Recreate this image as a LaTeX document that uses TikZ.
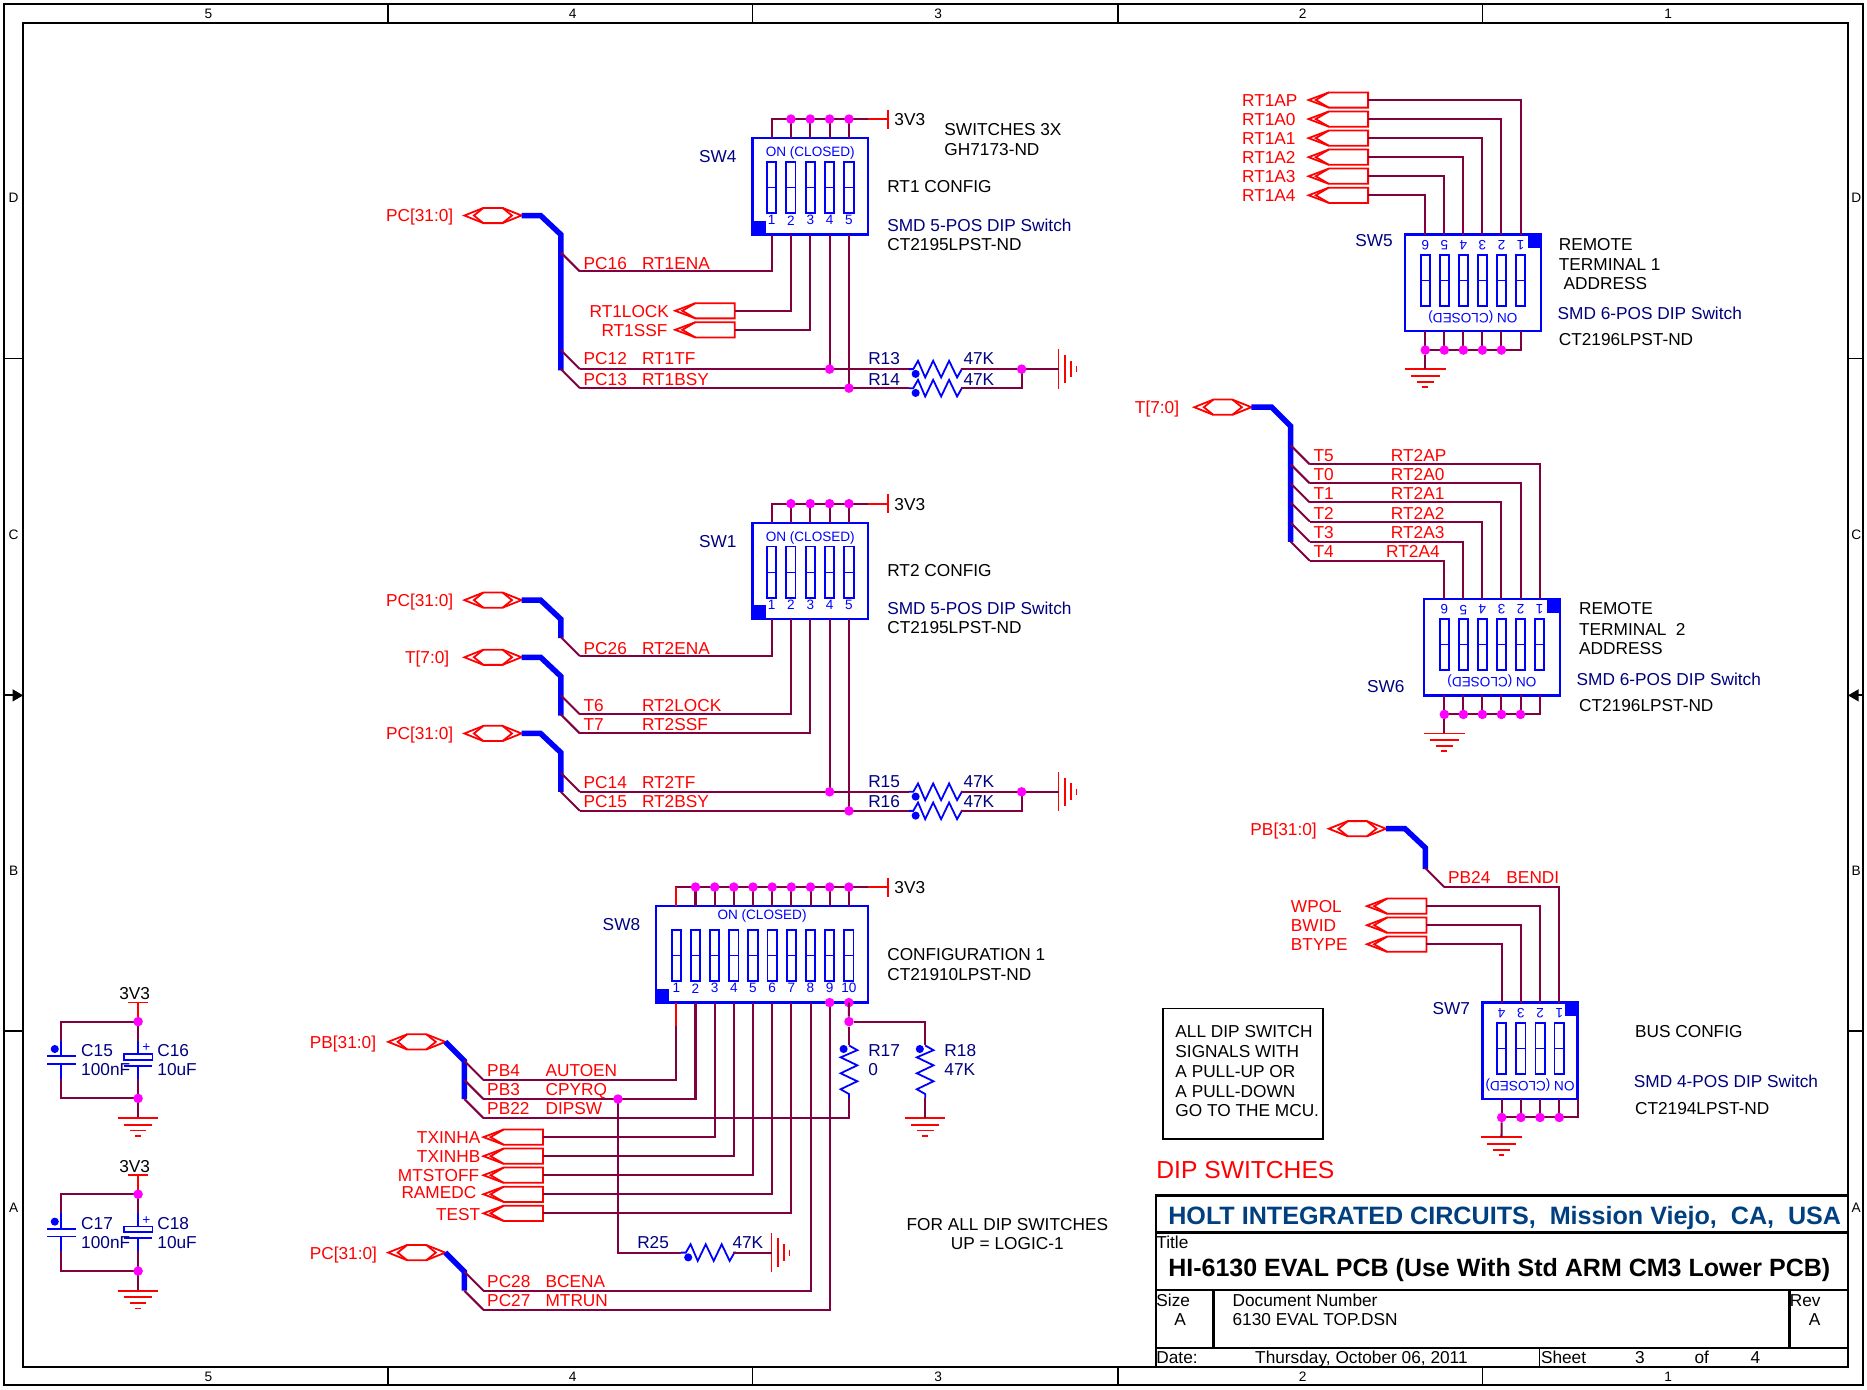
\documentclass[tikz,border=0pt]{standalone}
\usepackage{fontspec}
\setmainfont{Liberation Sans}
\usetikzlibrary{arrows.meta}

\definecolor{sigwire}{RGB}{128,0,64}
\definecolor{navytxt}{RGB}{0,0,128}
\definecolor{holtblue}{RGB}{0,64,128}
\definecolor{juncpink}{RGB}{255,0,255}
\definecolor{partblue}{RGB}{0,0,255}
\definecolor{netred}{RGB}{255,0,0}

\newcommand{\fs}[1]{\fontsize{#1}{#1}\selectfont}

% ports, rails and symbols, all given in sheet pixels
\newcommand{\outport}[3]{%
  \draw[redln] (#2,#3) -- ++(17,-6.4) -- ++(33,0) -- ++(0,12.8) -- ++(-33,0) -- cycle;
  \draw[redln] (#2+17,#3-6.4) -- (#2+6,#3) -- (#2+17,#3+6.4);
  \coordinate (#1) at (#2+50,#3);
}
\newcommand{\biport}[3]{%
  \draw[redln] (#2,#3) -- ++(16,-6.4) -- ++(16,0) -- ++(16,6.4) -- ++(-16,6.4) -- ++(-16,0) -- cycle;
  \draw[redln] (#2+16,#3-6.4) -- (#2+8,#3) -- (#2+16,#3+6.4);
  \draw[redln] (#2+32,#3-6.4) -- (#2+40,#3) -- (#2+32,#3+6.4);
  \coordinate (#1) at (#2+48,#3);
}
\newcommand{\busentry}[3]{%
  \draw[wire] (#2-16,#3-16) -- (#2,#3);
  \coordinate (#1) at (#2,#3);
}
\newcommand{\gnddown}[3]{%
  \coordinate (#1) at (#2,#3);
  \draw[redln] (#2-17,#3) -- (#2+17,#3);
  \draw[redln] (#2-12,#3+5.5) -- (#2+12,#3+5.5);
  \draw[redln] (#2-7,#3+10.5) -- (#2+7,#3+10.5);
  \draw[redln] (#2-2.5,#3+15) -- (#2+2.5,#3+15);
}
\newcommand{\gndright}[3]{%
  \coordinate (#1) at (#2,#3);
  \draw[redln] (#2,#3-16.5) -- (#2,#3+16.5);
  \draw[redln] (#2+5.5,#3-12) -- (#2+5.5,#3+12);
  \draw[redln] (#2+10.5,#3-7) -- (#2+10.5,#3+7);
  \draw[redln] (#2+15,#3-2.5) -- (#2+15,#3+2.5);
}
\newcommand{\hres}[3]{%
  \coordinate (#1-a) at (#2,#3);
  \coordinate (#1-b) at (#2+44,#3);
  \draw[partln] (#1-a) -- ++(4,0) -- ++(4,-7) -- ++(6,14) -- ++(6.7,-14) -- ++(6.7,14) -- ++(6.7,-14) -- ++(6.7,14) -- ++(4,-7) -- (#1-b);
  \fill[partblue] (#2+6,#3+4) circle (3.4);
}
\newcommand{\vres}[3]{%
  \coordinate (#1-a) at (#2,#3);
  \coordinate (#1-b) at (#2,#3+44);
  \draw[partln] (#1-a) -- ++(7,4) -- ++(-14,6) -- ++(14,6.7) -- ++(-14,6.7) -- ++(14,6.7) -- ++(-14,6.7) -- ++(7,4) -- (#1-b);
  \fill[partblue] (#2-4.5,#3+3) circle (3.4);
}
% name, left, right, top, x of pin 1, pins, pitch (below 0: part is turned round)
\newcommand{\dipsw}[7]{%
  \pgfmathsetmacro{\cx}{#7<0 ? #3-11 : #2}
  \pgfmathsetmacro{\cy}{#7<0 ? #4 : #4+69.5}
  \pgfmathsetmacro{\sly}{#7<0 ? #4+17 : #4+20}
  \pgfmathsetmacro{\numy}{#7<0 ? #4+9 : #4+69}
  \pgfmathsetmacro{\ony}{#7<0 ? #4+69 : (#6>6 ? #4+8 : #4+12.5)}
  \pgfmathsetmacro{\rot}{#7<0 ? 180 : 0}
  \fill[partblue] (\cx,\cy) rectangle ++(11,11.5);
  \draw[partbox] (#2,#4) rectangle (#3,#4+81);
  \node[swtxt,rotate=\rot] (#1-on) at ({(#2+#3)/2},\ony) {ON (CLOSED)};
  \foreach \i in {1,...,#6} {
    \pgfmathsetmacro{\px}{#5+(\i-1)*#7}
    \coordinate (#1-t\i) at (\px,#4);
    \coordinate (#1-b\i) at (\px,#4+81);
    \draw[partln] (\px-3.9,\sly) rectangle (\px+3.9,\sly+43);
    \draw[partblue,line width=.9pt] (\px-3.9,\sly+21.5) -- (\px+3.9,\sly+21.5);
    \node[swtxt,rotate=\rot] (#1-n\i) at (\px,\numy) {\i};
  }
}
% pull-up rail over a switch, with its 3V3 flag
\newcommand{\vccrail}[3]{%
  \coordinate (#1-vcc) at (746,#3);
  \coordinate (#1-red) at (729,#3);
  \draw[wire] (#1-t1) |- (#1-red);
  \draw[redln] (#1-red) -- (#1-vcc);
  \draw[redln] (746,#3-8) -- (746,#3+8);
  \foreach \i in {2,...,#2} {
    \draw[wire] (#1-t\i) -- (#1-t\i |- #1-vcc);
    \node[junc] (#1-d\i) at (#1-t\i |- #1-vcc) {};
  }
}
% ground rail under a turned switch
\newcommand{\gndrail}[3]{%
  \coordinate (#1-rail) at (#1-b#2 |- 0,#3);
  \draw[wire] (#1-b1) |- (#1-rail);
  \foreach \i in {2,...,#2} {
    \draw[wire] (#1-b\i) -- (#1-b\i |- #1-rail);
    \node[junc] (#1-d\i) at (#1-b\i |- #1-rail) {};
  }
}
% C15/C16 pair
\newcommand{\capgroup}[2]{%
  \coordinate (#1-v) at (116,#2-16);
  \coordinate (#1-g) at (116,#2+81);
  \coordinate (#1-l) at (51.5,#2+16);
  \coordinate (#1-m) at (51.5,#2+48);
  \coordinate (#1-r) at (116,#2+16);
  \coordinate (#1-s) at (116,#2+48);
  \draw[redln] (107.6,#2-16) -- (124.6,#2-16);
  \draw[redln] (#1-v) -- (116,#2);
  \draw[wire] (116,#2) -| (#1-l);
  \draw[wire] (116,#2+64.5) -| (#1-m);
  \draw[wire] (116,#2) -- (#1-r);
  \draw[wire] (#1-s) -- (#1-g);
  \draw[partln] (#1-l) -- (51.5,#2+29);
  \draw[partln] (39.5,#2+29) -- (63.6,#2+29);
  \draw[partln] (39.5,#2+35.5) -- (63.6,#2+35.5);
  \draw[partln] (51.5,#2+35.5) -- (#1-m);
  \fill[partblue] (46,#2+23) circle (3.4);
  \draw[partln] (#1-r) -- (116,#2+27);
  \draw[partln] (104,#2+27) rectangle (128,#2+32);
  \draw[partln] (104,#2+37) -- (128,#2+37);
  \draw[partln] (116,#2+37) -- (#1-s);
  \node[swtxt] (#1-plus) at (123,#2+22) {+};
  \node[junc] (#1-j1) at (116,#2) {};
  \node[junc] (#1-j2) at (116,#2+64.5) {};
  \gnddown{#1-gnd}{116}{#2+81}
}

\begin{document}
\begin{tikzpicture}[x=1pt,y=-1pt,line join=miter,
font=\fs{14.5},
wire/.style={draw=sigwire, line width=1.7pt},
redln/.style={draw=netred, line width=1.5pt},
partln/.style={draw=partblue, line width=1.5pt},
partbox/.style={draw=partblue, line width=2pt},
busln/.style={draw=partblue, line width=4.6pt},
frameln/.style={draw=black, line width=1.5pt},
junc/.style={circle, fill=juncpink, inner sep=0pt, minimum size=8pt},
blktxt/.style={anchor=base west, inner sep=0pt, yshift=-5.4pt, text=black},
redtxt/.style={blktxt, text=netred},
navtxt/.style={blktxt, text=navytxt},
midtxt/.style={anchor=base, inner sep=0pt, yshift=-5.4pt, text=black},
swtxt/.style={inner sep=0pt, text=partblue, font=\fs{11.4}},
zonetxt/.style={inner sep=0pt, text=black, font=\fs{11.5}},
]
\fill[white] (0,0) rectangle (1568,1166.6);
\useasboundingbox (0,0) rectangle (1568,1166.6);

% sheet frame
\draw[frameln] (3.5,3.5) rectangle (1564.5,1163.5);
\draw[frameln] (19.5,19.5) rectangle (1552,1148);
\foreach \x in {326,632,939,1245} {
  \draw[frameln] (\x,3.5) -- (\x,19.5);
  \draw[frameln] (\x,1148) -- (\x,1163.5);
}
\foreach \y in {301,866} {
  \draw[frameln] (3.5,\y) -- (19.5,\y);
  \draw[frameln] (1552,\y) -- (1564.5,\y);
}
\coordinate (midL) at (3.5,584);
\coordinate (midLi) at (19.5,584);
\coordinate (midR) at (1564.5,584);
\coordinate (midRi) at (1552,584);
\draw[frameln,-{Triangle[length=9pt,width=10pt]}] (midL) -- (midLi);
\draw[frameln,-{Triangle[length=9pt,width=10pt]}] (midR) -- (midRi);
\foreach \x/\n in {175/5,481/4,788/3,1094/2,1401/1} {
  \node[zonetxt] (zt\n) at (\x,11.5) {\n};
  \node[zonetxt] (zb\n) at (\x,1156.5) {\n};
}
\foreach \y/\n in {166/D,449/C,731/B,1014/A} {
  \node[zonetxt] (zl\n) at (11.5,\y) {\n};
  \node[zonetxt] (zr\n) at (1559,\y) {\n};
}

% SW4
\biport{pcA}{390}{181}
\draw[busln] (pcA) -- ++(16,0) -- ++(17,16) -- ++(0,114);
\busentry{e16}{487}{228}
\busentry{e12}{487}{310}
\busentry{e13}{487}{326}
\outport{lock1}{567}{261}
\outport{ssf1}{567}{277}
\dipsw{SW4}{632}{729}{116}{648}{5}{16.25}
\vccrail{SW4}{5}{100}
\draw[wire] (SW4-b1) |- (e16);
\draw[wire] (SW4-b2) |- (lock1);
\draw[wire] (SW4-b3) |- (ssf1);
\hres{R13}{763}{310}
\hres{R14}{763}{326}
\gndright{gnd1}{889}{310}
\draw[wire] (e12) -- (R13-a);
\draw[wire] (e13) -- (R14-a);
\draw[wire] (SW4-b4) -- (SW4-b4 |- e12);
\draw[wire] (SW4-b5) -- (SW4-b5 |- e13);
\draw[wire] (R13-b) -- (gnd1);
\draw[wire] (R14-b) -| (858,310);
\node[junc] (j4a) at (SW4-b4 |- e12) {};
\node[junc] (j4b) at (SW4-b5 |- e13) {};
\node[junc] (j4c) at (858,310) {};

% SW1
\biport{pcB}{390}{504}
\draw[busln] (pcB) -- ++(16,0) -- ++(17,16) -- ++(0,16);
\biport{tA}{390}{552}
\draw[busln] (tA) -- ++(16,0) -- ++(17,16) -- ++(0,33);
\biport{pcC}{390}{616}
\draw[busln] (pcC) -- ++(16,0) -- ++(17,16) -- ++(0,33);
\busentry{e26}{487}{551}
\busentry{e6}{487}{600}
\busentry{e7}{487}{616}
\busentry{e14}{487}{665}
\busentry{e15}{487}{681}
\dipsw{SW1}{632}{729}{439}{648}{5}{16.25}
\vccrail{SW1}{5}{423}
\draw[wire] (SW1-b1) |- (e26);
\draw[wire] (SW1-b2) |- (e6);
\draw[wire] (SW1-b3) |- (e7);
\hres{R15}{763}{665}
\hres{R16}{763}{681}
\gndright{gnd2}{889}{665}
\draw[wire] (e14) -- (R15-a);
\draw[wire] (e15) -- (R16-a);
\draw[wire] (SW1-b4) -- (SW1-b4 |- e14);
\draw[wire] (SW1-b5) -- (SW1-b5 |- e15);
\draw[wire] (R15-b) -- (gnd2);
\draw[wire] (R16-b) -| (858,665);
\node[junc] (j1a) at (SW1-b4 |- e14) {};
\node[junc] (j1b) at (SW1-b5 |- e15) {};
\node[junc] (j1c) at (858,665) {};

% SW8
\biport{pbA}{326}{875}
\draw[busln] (pbA) -- ++(16,16) -- ++(0,32);
\biport{pcD}{326}{1052}
\draw[busln] (pcD) -- ++(16,16) -- ++(0,16);
\busentry{b4}{406}{907}
\busentry{b3}{406}{923}
\busentry{b22}{406}{939}
\busentry{c28}{406}{1084}
\busentry{c27}{406}{1100}
\outport{txa}{406}{955}
\outport{txb}{406}{971}
\outport{mts}{406}{987}
\outport{ram}{406}{1003}
\outport{tst}{406}{1019}
\dipsw{SW8}{551}{729}{761}{568}{10}{16.1}
\vccrail{SW8}{10}{745}
\draw[redln] (SW8-t1) -- ++(0,-16);
\draw[wire] (SW8-b1) |- (b4);
\draw[redln] (SW8-b1) -- ++(0,20);
\draw[wire] (SW8-b2) |- (b3);
\draw[wire] (SW8-b3) |- (txa);
\draw[wire] (SW8-b4) |- (txb);
\draw[wire] (SW8-b5) |- (mts);
\draw[wire] (SW8-b6) |- (ram);
\draw[wire] (SW8-b7) |- (tst);
\draw[wire] (SW8-b8) |- (c28);
\draw[wire] (SW8-b9) |- (c27);
\node[junc] (j8a) at (SW8-b9) {};
\node[junc] (j8b) at (SW8-b10) {};
\node[junc] (j8c) at (713,858) {};
\vres{R17}{713}{878}
\vres{R18}{777}{878}
\gnddown{gnd3}{777}{939}
\draw[wire] (SW8-b10) -- (j8c);
\draw[wire] (j8c) -- (R17-a);
\draw[wire] (j8c) -| (R18-a);
\draw[wire] (R17-b) |- (b22);
\draw[wire] (R18-b) -- (gnd3);
\hres{R25}{572}{1052}
\gndright{gnd4}{648}{1052}
\draw[wire] (519,923) |- (R25-a);
\draw[wire] (R25-b) -- (gnd4);
\node[junc] (j8d) at (519,923) {};

% decoupling
\capgroup{CA}{858}
\capgroup{CB}{1003}

% SW5
\foreach \n/\y in {ap/84,a0/100,a1/116,a2/132,a3/148,a4/164} {\outport{\n}{1099}{\y}}
\dipsw{SW5}{1180}{1294}{197}{1277}{6}{-16}
\foreach \i/\n in {1/ap,2/a0,3/a1,4/a2,5/a3,6/a4} {\draw[wire] (SW5-t\i) |- (\n);}
\gndrail{SW5}{6}{294}
\gnddown{gnd5}{1197}{310}
\draw[wire] (SW5-d6) -- (gnd5);

% SW6
\biport{tB}{1003}{342}
\draw[busln] (tB) -- ++(17,0) -- ++(16,16) -- ++(0,97);
\foreach \n/\y in {t5/390,t0/406,t1/422,t2/438,t3/455,t4/471} {\busentry{\n}{1100}{\y}}
\dipsw{SW6}{1196}{1310}{503}{1293}{6}{-16}
\foreach \i/\n in {1/t5,2/t0,3/t1,4/t2,5/t3,6/t4} {\draw[wire] (SW6-t\i) |- (\n);}
\gndrail{SW6}{6}{600}
\gnddown{gnd6}{1213}{616}
\draw[wire] (SW6-d6) -- (gnd6);

% SW7
\biport{pbB}{1116}{696}
\draw[busln] (pbB) -- ++(16,0) -- ++(17,16) -- ++(0,18);
\busentry{b24}{1213}{745}
\foreach \n/\y in {wpol/761,bwid/777,btype/793} {\outport{\n}{1148}{\y}}
\dipsw{SW7}{1245}{1325}{842}{1309.5}{4}{-16.1}
\draw[wire] (SW7-t1) |- (b24);
\draw[wire] (SW7-t2) |- (wpol);
\draw[wire] (SW7-t3) |- (bwid);
\draw[wire] (SW7-t4) |- (btype);
\coordinate (SW7-edge) at (1325,923);
\draw[wire] (SW7-edge) |- (SW7-b4 |- 0,938.5);
\foreach \i in {1,...,4} {
  \draw[wire] (SW7-b\i) -- (SW7-b\i |- 0,938.5);
  \node[junc] (SW7-d\i) at (SW7-b\i |- 0,938.5) {};
}
\gnddown{gnd7}{1261}{955}
\draw[wire] (SW7-d4) -- (gnd7);

% texts
\foreach \x/\y/\lab in {
  324/181/{PC[31:0]}, 490/221/PC16, 539/221/RT1ENA, 495/261/RT1LOCK, 505/277/RT1SSF,
  490/301/PC12, 539/301/RT1TF, 490/318/PC13, 539/318/RT1BSY,
  324/504/{PC[31:0]}, 340/552/{T[7:0]}, 324/616/{PC[31:0]},
  490/544/PC26, 539/544/RT2ENA, 490/592/T6, 539/592/RT2LOCK, 490/608/T7, 539/608/RT2SSF,
  490/657/PC14, 539/657/RT2TF, 490/673/PC15, 539/673/RT2BSY,
  260/875/{PB[31:0]}, 409/899/PB4, 458/899/AUTOEN, 409/915/PB3, 458/915/CPYRQ,
  409/931/PB22, 458/931/DIPSW, 350/955/TXINHA, 350/971/TXINHB, 334/987/MTSTOFF,
  337/1001/RAMEDC, 366/1020/TEST, 260/1052/{PC[31:0]},
  409/1076/PC28, 458/1076/BCENA, 409/1092/PC27, 458/1092/MTRUN,
  1043/84/RT1AP, 1043/100/RT1A0, 1043/116/RT1A1, 1043/132/RT1A2, 1043/148/RT1A3, 1043/164/RT1A4,
  953/342/{T[7:0]}, 1103/382/T5, 1168/382/RT2AP, 1103/398/T0, 1168/398/RT2A0,
  1103/414/T1, 1168/414/RT2A1, 1103/431/T2, 1168/431/RT2A2, 1103/447/T3, 1168/447/RT2A3,
  1103/463/T4, 1164/463/RT2A4,
  1050/696/{PB[31:0]}, 1216/737/PB24, 1265/737/BENDI, 1084/761/WPOL, 1084/777/BWID, 1084/793/BTYPE} {
  \node[redtxt] (r\x-\y) at (\x,\y) {\lab};
}
\foreach \x/\y/\lab in {
  587/131/SW4, 745/189/{SMD 5-POS DIP Switch}, 729/301/R13, 809/301/47K, 729/318/R14, 809/318/47K,
  587/454/SW1, 745/511/{SMD 5-POS DIP Switch}, 729/656/R15, 809/656/47K, 729/673/R16, 809/673/47K,
  506/776/SW8, 729/882/R17, 729/898/0, 793/882/R18, 793/898/47K, 535/1043/R25, 615/1043/47K,
  68/882/C15, 68/898/100nF, 132/882/C16, 132/898/10uF, 68/1027/C17, 68/1043/100nF, 132/1027/C18, 132/1043/10uF,
  1138/202/SW5, 1308/263/{SMD 6-POS DIP Switch}, 1148/576/SW6, 1324/570/{SMD 6-POS DIP Switch},
  1203/847/SW7, 1372/908/{SMD 4-POS DIP Switch}} {
  \node[navtxt] (n\x-\y) at (\x,\y) {\lab};
}
\foreach \x/\y/\lab in {
  751/100/3V3, 793/108/{SWITCHES 3X}, 793/125/GH7173-ND, 745/156/{RT1 CONFIG}, 745/205/CT2195LPST-ND,
  751/423/3V3, 745/479/{RT2 CONFIG}, 745/527/CT2195LPST-ND,
  751/745/3V3, 745/801/{CONFIGURATION 1}, 745/818/CT21910LPST-ND,
  100/834/3V3, 100/979/3V3,
  1309/205/REMOTE, 1309/222/{TERMINAL 1}, 1313/238/ADDRESS, 1309/285/CT2196LPST-ND,
  1326/511/REMOTE, 1326/528/{TERMINAL\ \ 2}, 1326/544/ADDRESS, 1326/592/CT2196LPST-ND,
  1373/866/{BUS CONFIG}, 1373/931/CT2194LPST-ND,
  987/866/{ALL DIP SWITCH}, 987/883/{SIGNALS WITH}, 987/899.5/{A PULL-UP OR},
  987/916/{A PULL-DOWN}, 987/932.5/{GO TO THE MCU.}} {
  \node[blktxt] (k\x-\y) at (\x,\y) {\lab};
}
\node[midtxt] (note1) at (846,1028) {FOR ALL DIP SWITCHES};
\node[midtxt] (note2) at (846,1044) {UP = LOGIC-1};
\draw[frameln] (977,847) rectangle (1111,956.5);
\node[redtxt, font=\fs{20.7}, yshift=-2.5pt] (sheetname) at (971,982) {DIP SWITCHES};

% title block
\draw[line width=2pt] (971,1004) rectangle (1552,1148);
\draw[line width=2pt] (971,1035) -- (1552,1035);
\draw[line width=2pt] (971,1083.5) -- (1552,1083.5);
\draw[line width=2pt] (971,1132) -- (1552,1132);
\draw[line width=2pt] (1019,1083.5) -- (1019,1132);
\draw[line width=2pt] (1503,1083.5) -- (1503,1132);
\draw[line width=1.4pt] (1293,1132) -- (1293,1148);
\node[blktxt, font=\fs{21.1}\bfseries, text=holtblue, yshift=-3pt] (holt) at (981,1020) {HOLT INTEGRATED CIRCUITS,\ \ Mission Viejo,\ \ CA,\ \ USA};
\node[blktxt, font=\fs{21}\bfseries, yshift=-3pt] (title) at (981,1064) {HI-6130 EVAL PCB (Use With Std ARM CM3 Lower PCB)};
\foreach \x/\y/\lab in {
  971/1043/Title, 971/1092/Size, 986/1108/A, 1035/1092/{Document Number}, 1035/1108/{6130 EVAL TOP.DSN},
  1503/1092/Rev, 1519/1108/A, 971/1140/Date:, 1054/1140/{Thursday, October 06, 2011},
  1294/1140/Sheet, 1373/1140/3, 1423/1140/of, 1470/1140/4} {
  \node[blktxt] (tb\x-\y) at (\x,\y) {\lab};
}

\end{tikzpicture}
\end{document}
